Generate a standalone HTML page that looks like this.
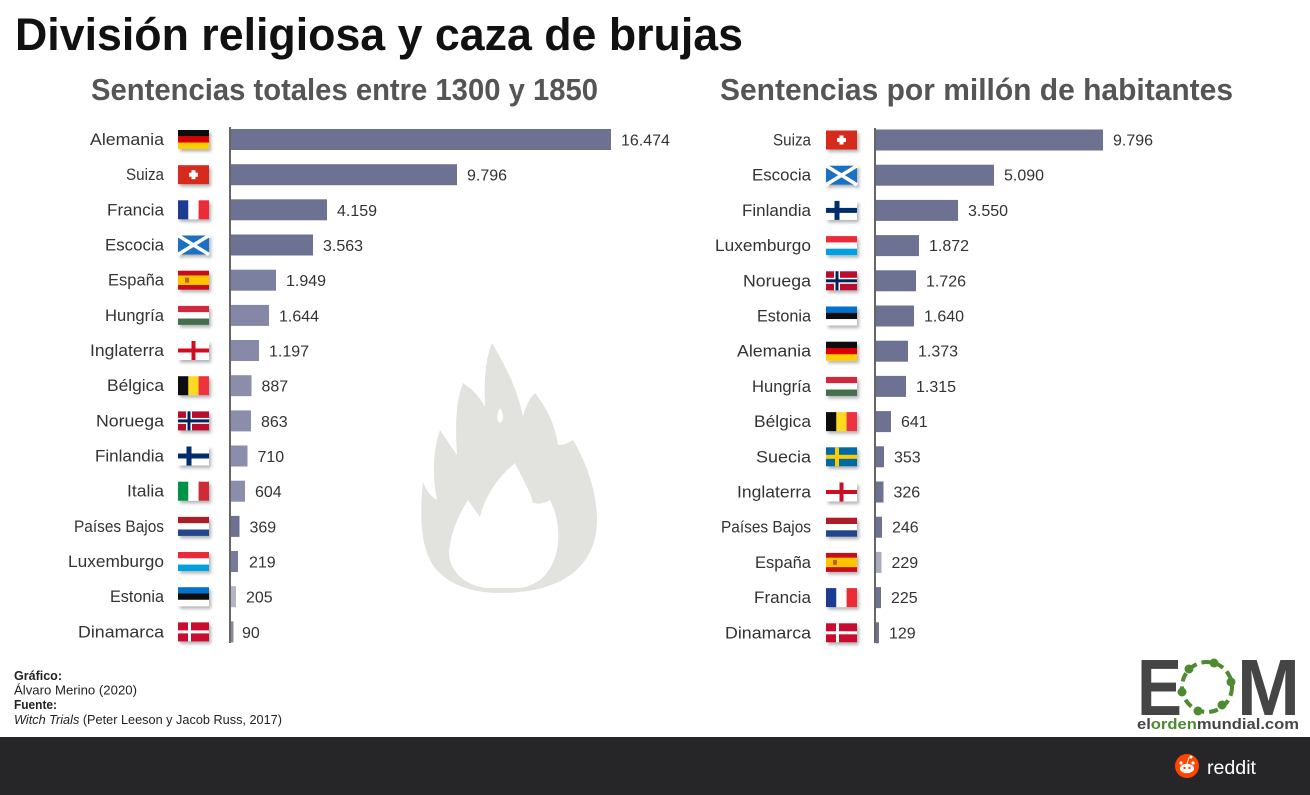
<!DOCTYPE html>
<html><head><meta charset="utf-8"><style>
html,body{margin:0;padding:0;background:#fff;}
svg{display:block;}
text{font-family:"Liberation Sans",sans-serif;}
</style></head><body>
<svg width="1310" height="795" viewBox="0 0 1310 795" xmlns="http://www.w3.org/2000/svg">
<defs>
<filter id="sh" x="-20%" y="-30%" width="150%" height="180%"><feDropShadow dx="2" dy="2.5" stdDeviation="1.5" flood-color="#000" flood-opacity="0.3"/></filter>
<g id="de"><rect width="31" height="6.4" fill="#111"/><rect y="6.3" width="31" height="6.4" fill="#dd0000"/><rect y="12.6" width="31" height="6.4" fill="#ffce00"/></g>
<g id="ch"><rect width="31" height="19" fill="#d52b1e"/><rect x="13.5" y="5" width="4" height="9" fill="#fff"/><rect x="11" y="7.5" width="9" height="4" fill="#fff"/></g>
<g id="fr"><rect width="10.4" height="19" fill="#1f3a93"/><rect x="10.3" width="10.4" height="19" fill="#fff"/><rect x="20.6" width="10.4" height="19" fill="#ed2939"/></g>
<g id="sco"><rect width="31" height="19" fill="#1a6fc0"/><path d="M0 0 L31 19 M31 0 L0 19" stroke="#fff" stroke-width="3.5"/></g>
<g id="es"><rect width="31" height="19" fill="#c60b1e"/><rect y="4.75" width="31" height="9.5" fill="#ffc400"/><rect x="7" y="7" width="4" height="5" fill="#b5651d"/></g>
<g id="hu"><rect width="31" height="6.4" fill="#cd2a3e"/><rect y="6.3" width="31" height="6.4" fill="#fff"/><rect y="12.6" width="31" height="6.4" fill="#436f4d"/></g>
<g id="en"><rect width="31" height="19" fill="#fff"/><rect x="13.5" width="4" height="19" fill="#ce1124"/><rect y="7.5" width="31" height="4" fill="#ce1124"/></g>
<g id="be"><rect width="10.4" height="19" fill="#111"/><rect x="10.3" width="10.4" height="19" fill="#fdda24"/><rect x="20.6" width="10.4" height="19" fill="#ef3340"/></g>
<g id="no"><rect width="31" height="19" fill="#ba0c2f"/><rect x="8" width="6" height="19" fill="#fff"/><rect y="6.5" width="31" height="6" fill="#fff"/><rect x="9.5" width="3" height="19" fill="#00205b"/><rect y="8" width="31" height="3" fill="#00205b"/></g>
<g id="fi"><rect width="31" height="19" fill="#fff"/><rect x="8.5" width="5" height="19" fill="#002f6c"/><rect y="7" width="31" height="5" fill="#002f6c"/></g>
<g id="it"><rect width="10.4" height="19" fill="#009246"/><rect x="10.3" width="10.4" height="19" fill="#fff"/><rect x="20.6" width="10.4" height="19" fill="#ce2b37"/></g>
<g id="nl"><rect width="31" height="6.4" fill="#ae1c28"/><rect y="6.3" width="31" height="6.4" fill="#fff"/><rect y="12.6" width="31" height="6.4" fill="#21468b"/></g>
<g id="lu"><rect width="31" height="6.4" fill="#ed2939"/><rect y="6.3" width="31" height="6.4" fill="#fff"/><rect y="12.6" width="31" height="6.4" fill="#00a1de"/></g>
<g id="ee"><rect width="31" height="6.4" fill="#0072ce"/><rect y="6.3" width="31" height="6.4" fill="#111"/><rect y="12.6" width="31" height="6.4" fill="#fff"/></g>
<g id="dk"><rect width="31" height="19" fill="#c8102e"/><rect x="10" width="3" height="19" fill="#fff"/><rect y="8" width="31" height="3" fill="#fff"/></g>
<g id="se"><rect width="31" height="19" fill="#006aa7"/><rect x="9" width="4" height="19" fill="#fecc00"/><rect y="7.5" width="31" height="4" fill="#fecc00"/></g>
</defs>

<rect width="1310" height="795" fill="#fff"/>

<!-- Flame -->
<path d="M500 593 C465 593 440 580 430 560 C420 540 420 510 423 482 Q428 495 437 500 C432 475 433 450 440 430 Q450 445 457 455 C455 425 456 400 463 383 Q478 393 485 407 C484 380 485 360 492 343 C505 365 518 390 523 417 Q527 400 535 393 C548 410 555 425 558 445 Q566 445 573 440 C585 460 597 490 597 520 C597 560 570 593 500 593 Z" fill="#e2e2df"/>
<path d="M486 588 C460 585 445 565 450 545 C453 525 462 510 468 500 Q475 510 480 517 C485 495 500 475 515 463 C522 478 530 490 533 503 Q542 505 550 500 C558 515 560 535 557 550 C552 572 540 585 520 588 Z" fill="#fff"/>
<path d="M500 408 C504 414 504 420 500 423 C496 420 497 414 500 408 Z" fill="#fff"/>

<!-- Titles -->
<text x="15" y="50" font-size="45" font-weight="bold" fill="#111" textLength="728" lengthAdjust="spacingAndGlyphs">División religiosa y caza de brujas</text>
<text x="91" y="100" font-size="31" font-weight="bold" fill="#555" textLength="507" lengthAdjust="spacingAndGlyphs">Sentencias totales entre 1300 y 1850</text>
<text x="720" y="100" font-size="31" font-weight="bold" fill="#555" textLength="513" lengthAdjust="spacingAndGlyphs">Sentencias por millón de habitantes</text>

<!-- LEFT CHART -->
<g fill="#6e7292">
<rect x="231" y="129" width="380" height="21"/>
<rect x="231" y="164.2" width="226" height="21"/>
<rect x="231" y="199.3" width="96" height="21"/>
<rect x="231" y="234.5" width="82" height="21"/>
<rect x="231" y="269.7" width="45" height="21" fill="#7c80a0"/>
<rect x="231" y="304.9" width="38" height="21" fill="#8488a6"/>
<rect x="231" y="340" width="28" height="21" fill="#868aa8"/>
<rect x="231" y="375.2" width="20.5" height="21" fill="#8a8eab"/>
<rect x="231" y="410.4" width="20" height="21" fill="#8a8eab"/>
<rect x="231" y="445.5" width="16.5" height="21" fill="#8a8eab"/>
<rect x="231" y="480.7" width="14" height="21" fill="#8a8eab"/>
<rect x="231" y="515.9" width="8.5" height="21"/>
<rect x="231" y="551" width="7" height="21" fill="#767a9c"/>
<rect x="231" y="586.2" width="5" height="21" fill="#b3b4c4"/>
<rect x="231" y="621.4" width="2.5" height="21" fill="#8a8a96"/>
</g>
<line x1="230" y1="127" x2="230" y2="643" stroke="#333" stroke-width="1.5"/>

<g filter="url(#sh)">
<use href="#de" x="178" y="130"/>
<use href="#ch" x="178" y="165.2"/>
<use href="#fr" x="178" y="200.3"/>
<use href="#sco" x="178" y="235.5"/>
<use href="#es" x="178" y="270.7"/>
<use href="#hu" x="178" y="305.9"/>
<use href="#en" x="178" y="341"/>
<use href="#be" x="178" y="376.2"/>
<use href="#no" x="178" y="411.4"/>
<use href="#fi" x="178" y="446.5"/>
<use href="#it" x="178" y="481.7"/>
<use href="#nl" x="178" y="516.9"/>
<use href="#lu" x="178" y="552"/>
<use href="#ee" x="178" y="587.2"/>
<use href="#dk" x="178" y="622.4"/>
</g>

<g font-size="16.5" fill="#333" text-anchor="end">
<text x="164" y="145" textLength="74" lengthAdjust="spacingAndGlyphs">Alemania</text>
<text x="164" y="180.2" textLength="38" lengthAdjust="spacingAndGlyphs">Suiza</text>
<text x="164" y="215.3" textLength="57" lengthAdjust="spacingAndGlyphs">Francia</text>
<text x="164" y="250.5" textLength="59" lengthAdjust="spacingAndGlyphs">Escocia</text>
<text x="164" y="285.7" textLength="56" lengthAdjust="spacingAndGlyphs">España</text>
<text x="164" y="320.9" textLength="59" lengthAdjust="spacingAndGlyphs">Hungría</text>
<text x="164" y="356" textLength="74" lengthAdjust="spacingAndGlyphs">Inglaterra</text>
<text x="164" y="391.2" textLength="57" lengthAdjust="spacingAndGlyphs">Bélgica</text>
<text x="164" y="426.4" textLength="68" lengthAdjust="spacingAndGlyphs">Noruega</text>
<text x="164" y="461.5" textLength="69" lengthAdjust="spacingAndGlyphs">Finlandia</text>
<text x="164" y="496.7" textLength="37" lengthAdjust="spacingAndGlyphs">Italia</text>
<text x="164" y="531.9" textLength="90" lengthAdjust="spacingAndGlyphs">Países Bajos</text>
<text x="164" y="567" textLength="96" lengthAdjust="spacingAndGlyphs">Luxemburgo</text>
<text x="164" y="602.2" textLength="54" lengthAdjust="spacingAndGlyphs">Estonia</text>
<text x="164" y="637.4" textLength="86" lengthAdjust="spacingAndGlyphs">Dinamarca</text>
</g>
<g font-size="16" fill="#333">
<text x="621" y="145.5">16.474</text>
<text x="467" y="180.7">9.796</text>
<text x="337" y="215.8">4.159</text>
<text x="323" y="251">3.563</text>
<text x="286" y="286.2">1.949</text>
<text x="279" y="321.4">1.644</text>
<text x="269" y="356.5">1.197</text>
<text x="261.5" y="391.7">887</text>
<text x="261" y="426.9">863</text>
<text x="257.5" y="462">710</text>
<text x="255" y="497.2">604</text>
<text x="249.5" y="532.4">369</text>
<text x="249" y="567.5">219</text>
<text x="246" y="602.7">205</text>
<text x="242" y="637.9">90</text>
</g>

<!-- RIGHT CHART -->
<g fill="#6e7292">
<rect x="876" y="129.5" width="227" height="21"/>
<rect x="876" y="164.7" width="118" height="21"/>
<rect x="876" y="199.9" width="82" height="21"/>
<rect x="876" y="235.1" width="43" height="21"/>
<rect x="876" y="270.3" width="40" height="21"/>
<rect x="876" y="305.5" width="38" height="21"/>
<rect x="876" y="340.7" width="32" height="21"/>
<rect x="876" y="375.9" width="30" height="21"/>
<rect x="876" y="411.1" width="15" height="21"/>
<rect x="876" y="446.3" width="8" height="21"/>
<rect x="876" y="481.5" width="7.5" height="21"/>
<rect x="876" y="516.7" width="6" height="21"/>
<rect x="876" y="551.9" width="5.5" height="21" fill="#a9abbe"/>
<rect x="876" y="587.1" width="5" height="21"/>
<rect x="876" y="622.3" width="3" height="21"/>
</g>
<line x1="875" y1="128" x2="875" y2="643" stroke="#333" stroke-width="1.5"/>

<g filter="url(#sh)">
<use href="#ch" x="826" y="130.5"/>
<use href="#sco" x="826" y="165.7"/>
<use href="#fi" x="826" y="200.9"/>
<use href="#lu" x="826" y="236.1"/>
<use href="#no" x="826" y="271.3"/>
<use href="#ee" x="826" y="306.5"/>
<use href="#de" x="826" y="341.7"/>
<use href="#hu" x="826" y="376.9"/>
<use href="#be" x="826" y="412.1"/>
<use href="#se" x="826" y="447.3"/>
<use href="#en" x="826" y="482.5"/>
<use href="#nl" x="826" y="517.7"/>
<use href="#es" x="826" y="552.9"/>
<use href="#fr" x="826" y="588.1"/>
<use href="#dk" x="826" y="623.3"/>
</g>

<g font-size="16.5" fill="#333" text-anchor="end">
<text x="811" y="145.5" textLength="38" lengthAdjust="spacingAndGlyphs">Suiza</text>
<text x="811" y="180.7" textLength="59" lengthAdjust="spacingAndGlyphs">Escocia</text>
<text x="811" y="215.9" textLength="69" lengthAdjust="spacingAndGlyphs">Finlandia</text>
<text x="811" y="251.1" textLength="96" lengthAdjust="spacingAndGlyphs">Luxemburgo</text>
<text x="811" y="286.3" textLength="68" lengthAdjust="spacingAndGlyphs">Noruega</text>
<text x="811" y="321.5" textLength="54" lengthAdjust="spacingAndGlyphs">Estonia</text>
<text x="811" y="356.7" textLength="74" lengthAdjust="spacingAndGlyphs">Alemania</text>
<text x="811" y="391.9" textLength="59" lengthAdjust="spacingAndGlyphs">Hungría</text>
<text x="811" y="427.1" textLength="57" lengthAdjust="spacingAndGlyphs">Bélgica</text>
<text x="811" y="462.3" textLength="55" lengthAdjust="spacingAndGlyphs">Suecia</text>
<text x="811" y="497.5" textLength="74" lengthAdjust="spacingAndGlyphs">Inglaterra</text>
<text x="811" y="532.7" textLength="90" lengthAdjust="spacingAndGlyphs">Países Bajos</text>
<text x="811" y="567.9" textLength="56" lengthAdjust="spacingAndGlyphs">España</text>
<text x="811" y="603.1" textLength="57" lengthAdjust="spacingAndGlyphs">Francia</text>
<text x="811" y="638.3" textLength="86" lengthAdjust="spacingAndGlyphs">Dinamarca</text>
</g>
<g font-size="16" fill="#333">
<text x="1113" y="145.5">9.796</text>
<text x="1004" y="180.7">5.090</text>
<text x="968" y="215.9">3.550</text>
<text x="929" y="251.1">1.872</text>
<text x="926" y="286.3">1.726</text>
<text x="924" y="321.5">1.640</text>
<text x="918" y="356.7">1.373</text>
<text x="916" y="391.9">1.315</text>
<text x="901" y="427.1">641</text>
<text x="894" y="462.3">353</text>
<text x="893.5" y="497.5">326</text>
<text x="892" y="532.7">246</text>
<text x="891.5" y="567.9">229</text>
<text x="891" y="603.1">225</text>
<text x="889" y="638.3">129</text>
</g>

<!-- Footer credits -->
<g font-size="12.5" fill="#222">
<text x="14" y="680" font-weight="bold" textLength="48" lengthAdjust="spacingAndGlyphs">Gráfico:</text>
<text x="14" y="694.5" textLength="123" lengthAdjust="spacingAndGlyphs">Álvaro Merino (2020)</text>
<text x="14" y="709" font-weight="bold" textLength="43" lengthAdjust="spacingAndGlyphs">Fuente:</text>
<text x="14" y="724" textLength="268" lengthAdjust="spacingAndGlyphs"><tspan font-style="italic">Witch Trials</tspan> (Peter Leeson y Jacob Russ, 2017)</text>
</g>

<!-- EOM logo -->
<text x="1137" y="715" font-size="80" font-weight="bold" fill="#454545" textLength="45" lengthAdjust="spacingAndGlyphs">E</text>
<text x="1237" y="715" font-size="80" font-weight="bold" fill="#454545" textLength="63" lengthAdjust="spacingAndGlyphs">M</text>
<circle cx="1207" cy="687" r="25" fill="none" stroke="#4e8a30" stroke-width="4" stroke-dasharray="9 5"/>
<g fill="#4e8a30">
<circle cx="1189" cy="669" r="4.5"/>
<circle cx="1214" cy="663" r="4.5"/>
<circle cx="1231" cy="682" r="4.5"/>
<circle cx="1222" cy="705" r="4.5"/>
<circle cx="1198" cy="711" r="4.5"/>
<circle cx="1182" cy="692" r="4.5"/>
</g>
<text x="1137" y="729" font-size="15" font-weight="bold" fill="#454545" textLength="162" lengthAdjust="spacingAndGlyphs">el<tspan fill="#4e8a30">orden</tspan>mundial.com</text>

<!-- Bottom bar -->
<rect x="0" y="737" width="1310" height="58" fill="#262628"/>
<circle cx="1187" cy="766" r="12" fill="#ff4500"/>
<ellipse cx="1187" cy="768.5" rx="7" ry="4.8" fill="#fff"/>
<circle cx="1181" cy="763" r="1.6" fill="#fff"/>
<circle cx="1193" cy="763" r="1.6" fill="#fff"/>
<circle cx="1191" cy="757" r="1.5" fill="#fff"/>
<line x1="1187" y1="764" x2="1189" y2="757.5" stroke="#fff" stroke-width="1"/>
<circle cx="1184.5" cy="768" r="1.2" fill="#ff4500"/>
<circle cx="1189.5" cy="768" r="1.2" fill="#ff4500"/>
<text x="1207" y="774" font-size="19" fill="#fff" textLength="49" lengthAdjust="spacingAndGlyphs">reddit</text>
</svg>
</body></html>
